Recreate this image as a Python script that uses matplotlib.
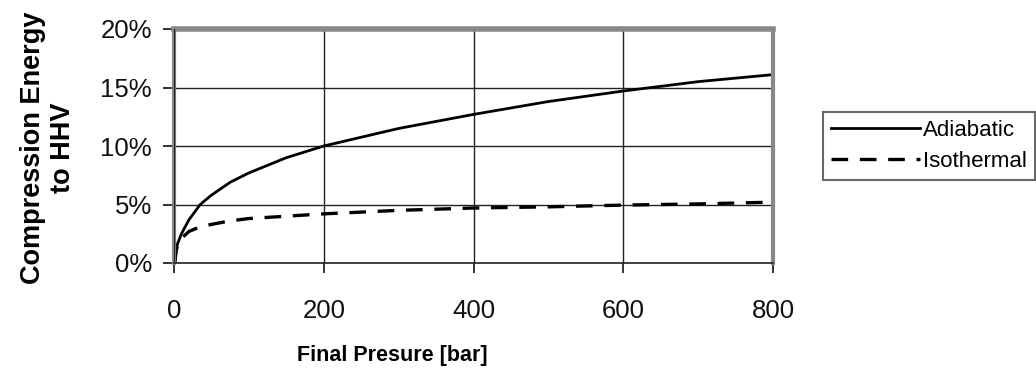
import matplotlib.pyplot as plt
from matplotlib.ticker import FuncFormatter

plt.rcParams['font.family'] = ['Liberation Sans', 'DejaVu Sans']

# values (pressure in bar, energy as fraction of HHV)
pressure = [1, 3, 5, 10, 20, 35, 50, 75, 100, 150, 200, 300, 400, 500, 600, 700, 800]
adiabatic = [0.0, 0.012, 0.017, 0.025, 0.037, 0.050, 0.058, 0.069, 0.077, 0.090, 0.100,
             0.115, 0.127, 0.138, 0.147, 0.155, 0.161]
isothermal = [0.0, 0.011, 0.015, 0.021, 0.027, 0.031, 0.033, 0.036, 0.038, 0.040, 0.042,
              0.045, 0.047, 0.048, 0.0495, 0.0505, 0.052]

x_ticks = [0, 200, 400, 600, 800]
y_ticks = [0, 0.05, 0.10, 0.15, 0.20]

fig = plt.figure(figsize=(10.36, 3.79), dpi=100)
ax = fig.add_axes([174 / 1036, 1 - 263 / 379, (773 - 174) / 1036, (263 - 29) / 379])

ax.plot(pressure, adiabatic, color='black', lw=2.0, label='Adiabatic')
ax.plot(pressure, isothermal, color='black', lw=2.4, dashes=(5, 3.5), label='Isothermal')

ax.set_xlim(0, 800)
ax.set_ylim(0, 0.20)
ax.set_xticks(x_ticks)
ax.set_yticks(y_ticks)
ax.yaxis.set_major_formatter(FuncFormatter(lambda v, p: f"{v * 100:.0f}%"))

ax.grid(True, color='#222222', lw=1.0)
ax.set_axisbelow(True)

for side in ['top', 'right', 'left']:
    ax.spines[side].set_color('#888888')
ax.spines['top'].set_linewidth(4)
ax.spines['right'].set_linewidth(3)
ax.spines['left'].set_linewidth(3)
ax.spines['bottom'].set_color('#222222')
ax.spines['bottom'].set_linewidth(1.2)
ax.axvline(0, color='#222222', lw=1.0, zorder=3)

ax.tick_params(axis='y', length=8, width=1.2, pad=8, labelsize=18.5, colors='#111111')
ax.tick_params(axis='x', length=7, width=1.2, pad=19, labelsize=18.5, colors='#111111')

fig.text(392 / 1036, 1 - 356 / 379, 'Final Presure [bar]', ha='center', va='center',
         fontsize=15.5, fontweight='bold')
fig.text(48 / 1036, 1 - 148 / 379, 'Compression Energy\nto HHV', ha='center', va='center',
         rotation=90, fontsize=19.5, fontweight='bold', linespacing=1.2)

leg = ax.legend(loc='center left', bbox_to_anchor=(823 / 1036, 1 - 146 / 379),
                bbox_transform=fig.transFigure, fontsize=16, frameon=True, fancybox=False,
                handlelength=4.0, handletextpad=0.15, borderpad=0.35, labelspacing=0.45,
                borderaxespad=0)
leg.get_frame().set_edgecolor('#444444')
leg.get_frame().set_linewidth(1.5)

fig.savefig('out.png', dpi=100)
